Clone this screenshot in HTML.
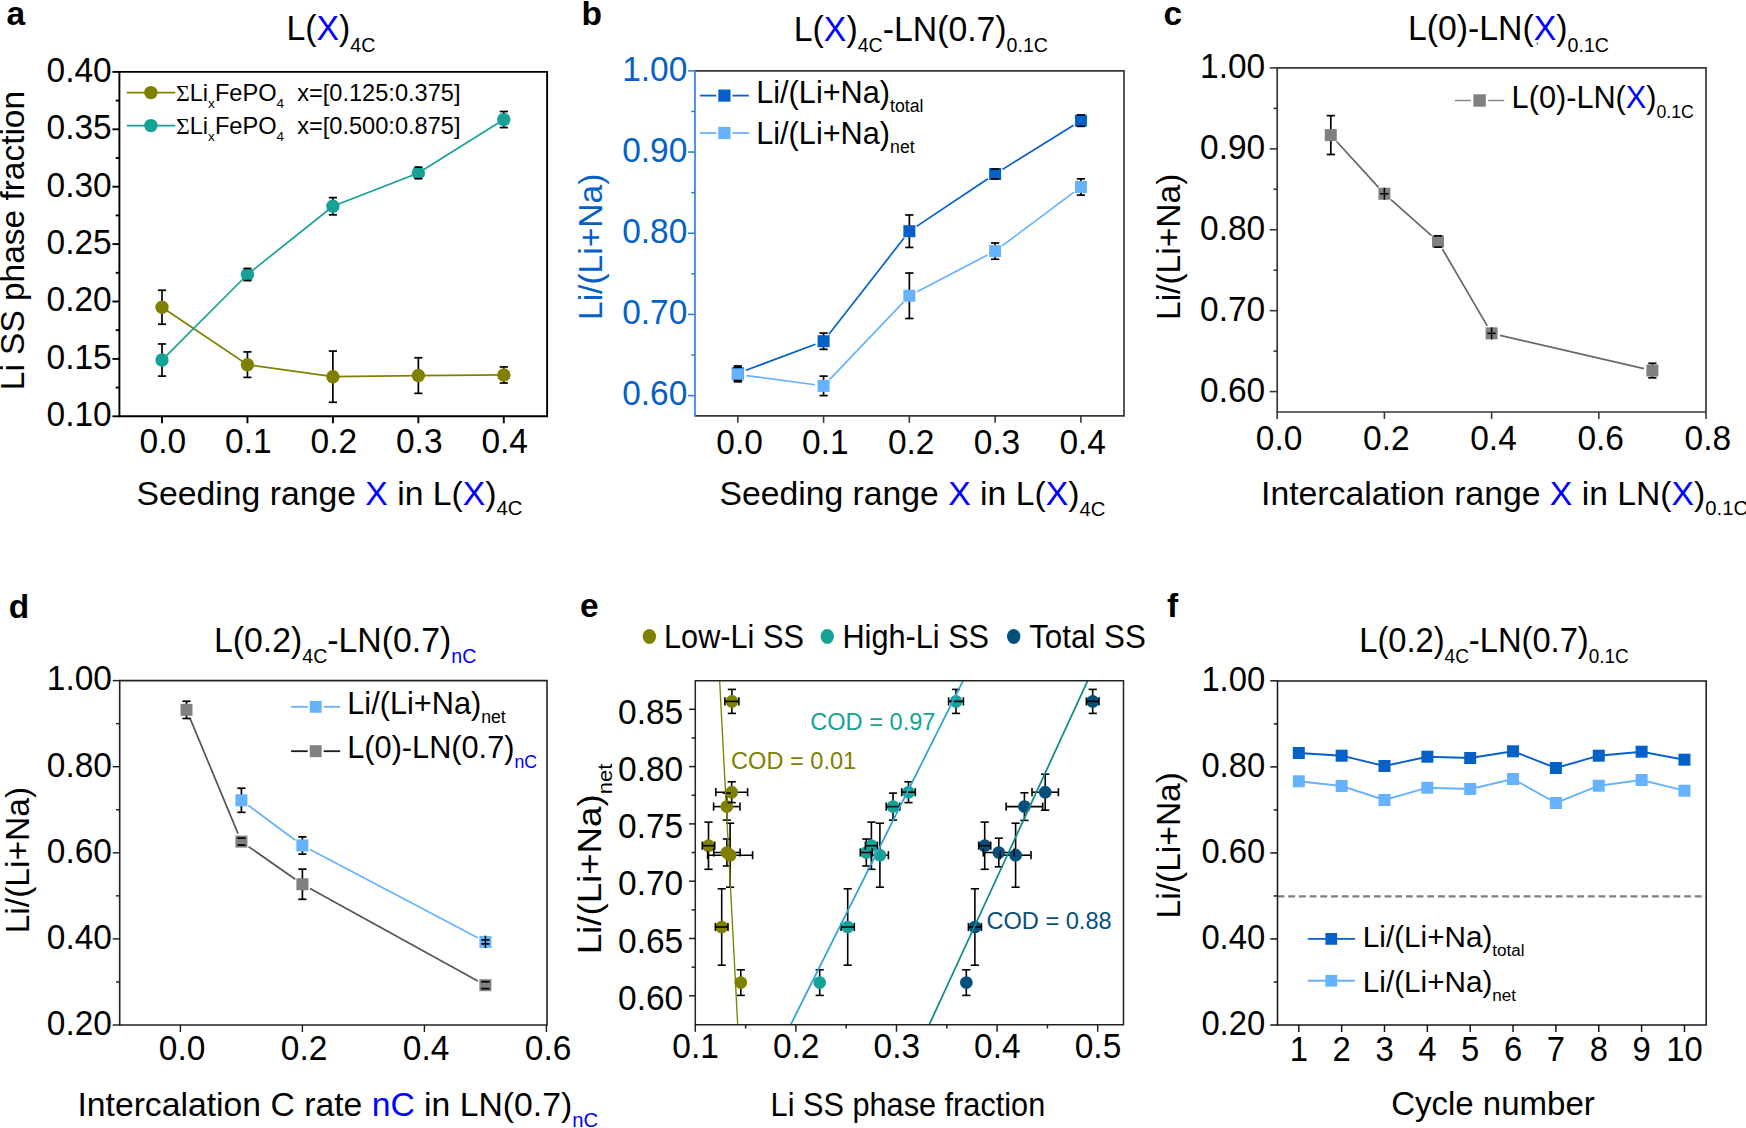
<!DOCTYPE html>
<html><head><meta charset="utf-8"><title>Figure</title>
<style>
html,body{margin:0;padding:0;background:#fff;}
body{width:1746px;height:1128px;overflow:hidden;}
svg{display:block;font-family:"Liberation Sans", sans-serif;}
</style></head><body>
<svg width="1746" height="1128" viewBox="0 0 1746 1128">
<rect width="1746" height="1128" fill="#fff"/>
<polyline fill="none" stroke="#808000" stroke-width="1.7" points="162.00,307.24 247.45,364.64 332.90,376.69 418.35,375.55 503.80,374.97"/>
<polyline fill="none" stroke="#17a297" stroke-width="1.7" points="162.00,360.05 247.45,274.52 332.90,206.22 418.35,172.92 503.80,119.54"/>
<line x1="162.00" y1="290.25" x2="162.00" y2="324.23" stroke="#000" stroke-width="1.7"/>
<line x1="247.45" y1="351.90" x2="247.45" y2="377.38" stroke="#000" stroke-width="1.7"/>
<line x1="332.90" y1="351.09" x2="332.90" y2="402.29" stroke="#000" stroke-width="1.7"/>
<line x1="418.35" y1="357.75" x2="418.35" y2="393.34" stroke="#000" stroke-width="1.7"/>
<line x1="503.80" y1="366.94" x2="503.80" y2="383.01" stroke="#000" stroke-width="1.7"/>
<line x1="162.00" y1="343.98" x2="162.00" y2="376.12" stroke="#000" stroke-width="1.7"/>
<line x1="247.45" y1="268.44" x2="247.45" y2="280.61" stroke="#000" stroke-width="1.7"/>
<line x1="332.90" y1="197.61" x2="332.90" y2="214.83" stroke="#000" stroke-width="1.7"/>
<line x1="418.35" y1="167.18" x2="418.35" y2="178.66" stroke="#000" stroke-width="1.7"/>
<line x1="503.80" y1="111.51" x2="503.80" y2="127.58" stroke="#000" stroke-width="1.7"/>
<circle cx="162.00" cy="307.24" r="6.7" fill="#808000"/>
<circle cx="247.45" cy="364.64" r="6.7" fill="#808000"/>
<circle cx="332.90" cy="376.69" r="6.7" fill="#808000"/>
<circle cx="418.35" cy="375.55" r="6.7" fill="#808000"/>
<circle cx="503.80" cy="374.97" r="6.7" fill="#808000"/>
<circle cx="162.00" cy="360.05" r="6.7" fill="#17a297"/>
<circle cx="247.45" cy="274.52" r="6.7" fill="#17a297"/>
<circle cx="332.90" cy="206.22" r="6.7" fill="#17a297"/>
<circle cx="418.35" cy="172.92" r="6.7" fill="#17a297"/>
<circle cx="503.80" cy="119.54" r="6.7" fill="#17a297"/>
<line x1="157.90" y1="290.25" x2="166.10" y2="290.25" stroke="#000" stroke-width="1.7"/>
<line x1="157.90" y1="324.23" x2="166.10" y2="324.23" stroke="#000" stroke-width="1.7"/>
<line x1="243.35" y1="351.90" x2="251.55" y2="351.90" stroke="#000" stroke-width="1.7"/>
<line x1="243.35" y1="377.38" x2="251.55" y2="377.38" stroke="#000" stroke-width="1.7"/>
<line x1="328.80" y1="351.09" x2="337.00" y2="351.09" stroke="#000" stroke-width="1.7"/>
<line x1="328.80" y1="402.29" x2="337.00" y2="402.29" stroke="#000" stroke-width="1.7"/>
<line x1="414.25" y1="357.75" x2="422.45" y2="357.75" stroke="#000" stroke-width="1.7"/>
<line x1="414.25" y1="393.34" x2="422.45" y2="393.34" stroke="#000" stroke-width="1.7"/>
<line x1="499.70" y1="366.94" x2="507.90" y2="366.94" stroke="#000" stroke-width="1.7"/>
<line x1="499.70" y1="383.01" x2="507.90" y2="383.01" stroke="#000" stroke-width="1.7"/>
<line x1="157.90" y1="343.98" x2="166.10" y2="343.98" stroke="#000" stroke-width="1.7"/>
<line x1="157.90" y1="376.12" x2="166.10" y2="376.12" stroke="#000" stroke-width="1.7"/>
<line x1="243.35" y1="268.44" x2="251.55" y2="268.44" stroke="#000" stroke-width="1.7"/>
<line x1="243.35" y1="280.61" x2="251.55" y2="280.61" stroke="#000" stroke-width="1.7"/>
<line x1="328.80" y1="197.61" x2="337.00" y2="197.61" stroke="#000" stroke-width="1.7"/>
<line x1="328.80" y1="214.83" x2="337.00" y2="214.83" stroke="#000" stroke-width="1.7"/>
<line x1="414.25" y1="167.18" x2="422.45" y2="167.18" stroke="#000" stroke-width="1.7"/>
<line x1="414.25" y1="178.66" x2="422.45" y2="178.66" stroke="#000" stroke-width="1.7"/>
<line x1="499.70" y1="111.51" x2="507.90" y2="111.51" stroke="#000" stroke-width="1.7"/>
<line x1="499.70" y1="127.58" x2="507.90" y2="127.58" stroke="#000" stroke-width="1.7"/>
<polyline fill="none" stroke="#000" stroke-width="1.9" stroke-linejoin="miter" points="119.4,71.9 547.1,71.9 547.1,416.3 119.4,416.3"/>
<line x1="119.40" y1="70.95" x2="119.40" y2="417.25" stroke="#000" stroke-width="1.9"/>
<line x1="112.40" y1="416.30" x2="119.40" y2="416.30" stroke="#000" stroke-width="1.9"/>
<text x="0" y="0" font-size="33.5" text-anchor="end" fill="#000" transform="translate(111.7 426.18) scale(1 1.06)"><tspan>0.10</tspan></text>
<line x1="112.40" y1="358.90" x2="119.40" y2="358.90" stroke="#000" stroke-width="1.9"/>
<text x="0" y="0" font-size="33.5" text-anchor="end" fill="#000" transform="translate(111.7 368.78) scale(1 1.06)"><tspan>0.15</tspan></text>
<line x1="112.40" y1="301.50" x2="119.40" y2="301.50" stroke="#000" stroke-width="1.9"/>
<text x="0" y="0" font-size="33.5" text-anchor="end" fill="#000" transform="translate(111.7 311.38) scale(1 1.06)"><tspan>0.20</tspan></text>
<line x1="112.40" y1="244.10" x2="119.40" y2="244.10" stroke="#000" stroke-width="1.9"/>
<text x="0" y="0" font-size="33.5" text-anchor="end" fill="#000" transform="translate(111.7 253.98) scale(1 1.06)"><tspan>0.25</tspan></text>
<line x1="112.40" y1="186.70" x2="119.40" y2="186.70" stroke="#000" stroke-width="1.9"/>
<text x="0" y="0" font-size="33.5" text-anchor="end" fill="#000" transform="translate(111.7 196.58) scale(1 1.06)"><tspan>0.30</tspan></text>
<line x1="112.40" y1="129.30" x2="119.40" y2="129.30" stroke="#000" stroke-width="1.9"/>
<text x="0" y="0" font-size="33.5" text-anchor="end" fill="#000" transform="translate(111.7 139.18) scale(1 1.06)"><tspan>0.35</tspan></text>
<line x1="112.40" y1="71.90" x2="119.40" y2="71.90" stroke="#000" stroke-width="1.9"/>
<text x="0" y="0" font-size="33.5" text-anchor="end" fill="#000" transform="translate(111.7 81.78) scale(1 1.06)"><tspan>0.40</tspan></text>
<line x1="115.70" y1="387.60" x2="119.40" y2="387.60" stroke="#000" stroke-width="1.9"/>
<line x1="115.70" y1="330.20" x2="119.40" y2="330.20" stroke="#000" stroke-width="1.9"/>
<line x1="115.70" y1="272.80" x2="119.40" y2="272.80" stroke="#000" stroke-width="1.9"/>
<line x1="115.70" y1="215.40" x2="119.40" y2="215.40" stroke="#000" stroke-width="1.9"/>
<line x1="115.70" y1="158.00" x2="119.40" y2="158.00" stroke="#000" stroke-width="1.9"/>
<line x1="115.70" y1="100.60" x2="119.40" y2="100.60" stroke="#000" stroke-width="1.9"/>
<line x1="162.00" y1="416.30" x2="162.00" y2="423.30" stroke="#000" stroke-width="1.9"/>
<text x="0" y="0" font-size="33.5" text-anchor="middle" fill="#000" transform="translate(162.9 453.3) scale(1 1.06)"><tspan>0.0</tspan></text>
<line x1="247.45" y1="416.30" x2="247.45" y2="423.30" stroke="#000" stroke-width="1.9"/>
<text x="0" y="0" font-size="33.5" text-anchor="middle" fill="#000" transform="translate(248.35 453.3) scale(1 1.06)"><tspan>0.1</tspan></text>
<line x1="332.90" y1="416.30" x2="332.90" y2="423.30" stroke="#000" stroke-width="1.9"/>
<text x="0" y="0" font-size="33.5" text-anchor="middle" fill="#000" transform="translate(333.8 453.3) scale(1 1.06)"><tspan>0.2</tspan></text>
<line x1="418.35" y1="416.30" x2="418.35" y2="423.30" stroke="#000" stroke-width="1.9"/>
<text x="0" y="0" font-size="33.5" text-anchor="middle" fill="#000" transform="translate(419.25 453.3) scale(1 1.06)"><tspan>0.3</tspan></text>
<line x1="503.80" y1="416.30" x2="503.80" y2="423.30" stroke="#000" stroke-width="1.9"/>
<text x="0" y="0" font-size="33.5" text-anchor="middle" fill="#000" transform="translate(504.7 453.3) scale(1 1.06)"><tspan>0.4</tspan></text>
<text x="6.6" y="24.9" font-size="33.5" text-anchor="start" fill="#000" font-weight="bold"><tspan>a</tspan></text>
<text x="0" y="0" font-size="33.8" text-anchor="start" fill="#000" transform="translate(286.5 40.3) scale(1 1.06)"><tspan>L(</tspan><tspan fill="#0000ff">X</tspan><tspan>)</tspan><tspan dy="10.65" font-size="19.60">4C</tspan></text>
<text x="24.1" y="390.2" font-size="33.45" text-anchor="start" fill="#000" transform="rotate(-90 24.1 390.2)"><tspan>Li SS phase fraction</tspan></text>
<text x="136.6" y="504.8" font-size="33.72" text-anchor="start" fill="#000"><tspan>Seeding range </tspan><tspan fill="#0000ff">X</tspan><tspan> in L(</tspan><tspan fill="#0000ff">X</tspan><tspan>)</tspan><tspan dy="10.62" font-size="20.23">4C</tspan></text>
<line x1="126.80" y1="92.60" x2="175.30" y2="92.60" stroke="#808000" stroke-width="1.7"/>
<circle cx="150.90" cy="92.60" r="6.7" fill="#808000"/>
<text x="176" y="100.75" font-size="23.6" text-anchor="start" fill="#000"><tspan font-family="Liberation Serif, serif">Σ</tspan><tspan>Li</tspan><tspan dy="7.43" font-size="13.57">x</tspan><tspan dy="-7.43">FePO</tspan><tspan dy="7.43" font-size="13.57">4</tspan><tspan dy="-7.43">  x=[0.125:0.375]</tspan></text>
<line x1="126.80" y1="125.60" x2="175.30" y2="125.60" stroke="#17a297" stroke-width="1.7"/>
<circle cx="150.90" cy="125.60" r="6.7" fill="#17a297"/>
<text x="176" y="133.75" font-size="23.6" text-anchor="start" fill="#000"><tspan font-family="Liberation Serif, serif">Σ</tspan><tspan>Li</tspan><tspan dy="7.43" font-size="13.57">x</tspan><tspan dy="-7.43">FePO</tspan><tspan dy="7.43" font-size="13.57">4</tspan><tspan dy="-7.43">  x=[0.500:0.875]</tspan></text>
<line x1="745.95" y1="370.23" x2="815.43" y2="344.26" stroke="#0560c8" stroke-width="1.7"/>
<line x1="828.93" y1="334.35" x2="904.01" y2="238.07" stroke="#0560c8" stroke-width="1.7"/>
<line x1="916.60" y1="226.38" x2="987.90" y2="178.81" stroke="#0560c8" stroke-width="1.7"/>
<line x1="1002.53" y1="169.38" x2="1073.53" y2="125.24" stroke="#0560c8" stroke-width="1.7"/>
<line x1="746.42" y1="375.64" x2="814.96" y2="384.72" stroke="#66b2ff" stroke-width="1.7"/>
<line x1="829.58" y1="379.56" x2="903.36" y2="302.05" stroke="#66b2ff" stroke-width="1.7"/>
<line x1="917.08" y1="291.73" x2="987.42" y2="255.12" stroke="#66b2ff" stroke-width="1.7"/>
<line x1="1002.11" y1="245.89" x2="1073.95" y2="192.18" stroke="#66b2ff" stroke-width="1.7"/>
<line x1="737.80" y1="365.97" x2="737.80" y2="380.58" stroke="#000" stroke-width="1.7"/>
<line x1="823.58" y1="333.09" x2="823.58" y2="349.33" stroke="#000" stroke-width="1.7"/>
<line x1="909.36" y1="214.97" x2="909.36" y2="247.45" stroke="#000" stroke-width="1.7"/>
<line x1="995.14" y1="169.11" x2="995.14" y2="178.85" stroke="#000" stroke-width="1.7"/>
<line x1="1080.92" y1="114.96" x2="1080.92" y2="126.33" stroke="#000" stroke-width="1.7"/>
<line x1="737.80" y1="367.19" x2="737.80" y2="381.80" stroke="#000" stroke-width="1.7"/>
<line x1="823.58" y1="376.12" x2="823.58" y2="395.60" stroke="#000" stroke-width="1.7"/>
<line x1="909.36" y1="273.02" x2="909.36" y2="318.48" stroke="#000" stroke-width="1.7"/>
<line x1="995.14" y1="242.98" x2="995.14" y2="259.22" stroke="#000" stroke-width="1.7"/>
<line x1="1080.92" y1="178.85" x2="1080.92" y2="195.09" stroke="#000" stroke-width="1.7"/>
<rect x="731.80" y="367.28" width="12" height="12" fill="#0560c8"/>
<rect x="817.58" y="335.21" width="12" height="12" fill="#0560c8"/>
<rect x="903.36" y="225.21" width="12" height="12" fill="#0560c8"/>
<rect x="989.14" y="167.98" width="12" height="12" fill="#0560c8"/>
<rect x="1074.92" y="114.64" width="12" height="12" fill="#0560c8"/>
<rect x="731.80" y="368.49" width="12" height="12" fill="#66b2ff"/>
<rect x="817.58" y="379.86" width="12" height="12" fill="#66b2ff"/>
<rect x="903.36" y="289.75" width="12" height="12" fill="#66b2ff"/>
<rect x="989.14" y="245.10" width="12" height="12" fill="#66b2ff"/>
<rect x="1074.92" y="180.97" width="12" height="12" fill="#66b2ff"/>
<line x1="733.70" y1="365.97" x2="741.90" y2="365.97" stroke="#000" stroke-width="1.7"/>
<line x1="733.70" y1="380.58" x2="741.90" y2="380.58" stroke="#000" stroke-width="1.7"/>
<line x1="819.48" y1="333.09" x2="827.68" y2="333.09" stroke="#000" stroke-width="1.7"/>
<line x1="819.48" y1="349.33" x2="827.68" y2="349.33" stroke="#000" stroke-width="1.7"/>
<line x1="905.26" y1="214.97" x2="913.46" y2="214.97" stroke="#000" stroke-width="1.7"/>
<line x1="905.26" y1="247.45" x2="913.46" y2="247.45" stroke="#000" stroke-width="1.7"/>
<line x1="991.04" y1="169.11" x2="999.24" y2="169.11" stroke="#000" stroke-width="1.7"/>
<line x1="991.04" y1="178.85" x2="999.24" y2="178.85" stroke="#000" stroke-width="1.7"/>
<line x1="1076.82" y1="114.96" x2="1085.02" y2="114.96" stroke="#000" stroke-width="1.7"/>
<line x1="1076.82" y1="126.33" x2="1085.02" y2="126.33" stroke="#000" stroke-width="1.7"/>
<line x1="733.70" y1="367.19" x2="741.90" y2="367.19" stroke="#000" stroke-width="1.7"/>
<line x1="733.70" y1="381.80" x2="741.90" y2="381.80" stroke="#000" stroke-width="1.7"/>
<line x1="819.48" y1="376.12" x2="827.68" y2="376.12" stroke="#000" stroke-width="1.7"/>
<line x1="819.48" y1="395.60" x2="827.68" y2="395.60" stroke="#000" stroke-width="1.7"/>
<line x1="905.26" y1="273.02" x2="913.46" y2="273.02" stroke="#000" stroke-width="1.7"/>
<line x1="905.26" y1="318.48" x2="913.46" y2="318.48" stroke="#000" stroke-width="1.7"/>
<line x1="991.04" y1="242.98" x2="999.24" y2="242.98" stroke="#000" stroke-width="1.7"/>
<line x1="991.04" y1="259.22" x2="999.24" y2="259.22" stroke="#000" stroke-width="1.7"/>
<line x1="1076.82" y1="178.85" x2="1085.02" y2="178.85" stroke="#000" stroke-width="1.7"/>
<line x1="1076.82" y1="195.09" x2="1085.02" y2="195.09" stroke="#000" stroke-width="1.7"/>
<polyline fill="none" stroke="#383838" stroke-width="1.7" stroke-linejoin="miter" points="695.0,70.9 1124,70.9 1124,415.8 695.0,415.8"/>
<line x1="695.00" y1="70.05" x2="695.00" y2="416.65" stroke="#2d7ad6" stroke-width="1.6"/>
<line x1="688.00" y1="395.60" x2="695.00" y2="395.60" stroke="#2d7ad6" stroke-width="1.5"/>
<text x="0" y="0" font-size="33.5" text-anchor="end" fill="#0560c8" transform="translate(687.3 405.48) scale(1 1.06)"><tspan>0.60</tspan></text>
<line x1="688.00" y1="314.42" x2="695.00" y2="314.42" stroke="#2d7ad6" stroke-width="1.5"/>
<text x="0" y="0" font-size="33.5" text-anchor="end" fill="#0560c8" transform="translate(687.3 324.3) scale(1 1.06)"><tspan>0.70</tspan></text>
<line x1="688.00" y1="233.24" x2="695.00" y2="233.24" stroke="#2d7ad6" stroke-width="1.5"/>
<text x="0" y="0" font-size="33.5" text-anchor="end" fill="#0560c8" transform="translate(687.3 243.12) scale(1 1.06)"><tspan>0.80</tspan></text>
<line x1="688.00" y1="152.06" x2="695.00" y2="152.06" stroke="#2d7ad6" stroke-width="1.5"/>
<text x="0" y="0" font-size="33.5" text-anchor="end" fill="#0560c8" transform="translate(687.3 161.94) scale(1 1.06)"><tspan>0.90</tspan></text>
<line x1="688.00" y1="70.88" x2="695.00" y2="70.88" stroke="#2d7ad6" stroke-width="1.5"/>
<text x="0" y="0" font-size="33.5" text-anchor="end" fill="#0560c8" transform="translate(687.3 80.76) scale(1 1.06)"><tspan>1.00</tspan></text>
<line x1="691.30" y1="355.01" x2="695.00" y2="355.01" stroke="#2d7ad6" stroke-width="1.5"/>
<line x1="691.30" y1="273.83" x2="695.00" y2="273.83" stroke="#2d7ad6" stroke-width="1.5"/>
<line x1="691.30" y1="192.65" x2="695.00" y2="192.65" stroke="#2d7ad6" stroke-width="1.5"/>
<line x1="691.30" y1="111.47" x2="695.00" y2="111.47" stroke="#2d7ad6" stroke-width="1.5"/>
<line x1="737.80" y1="415.80" x2="737.80" y2="422.80" stroke="#383838" stroke-width="1.6"/>
<text x="0" y="0" font-size="33.5" text-anchor="middle" fill="#000" transform="translate(739.6 453.6) scale(1 1.06)"><tspan>0.0</tspan></text>
<line x1="823.58" y1="415.80" x2="823.58" y2="422.80" stroke="#383838" stroke-width="1.6"/>
<text x="0" y="0" font-size="33.5" text-anchor="middle" fill="#000" transform="translate(825.38 453.6) scale(1 1.06)"><tspan>0.1</tspan></text>
<line x1="909.36" y1="415.80" x2="909.36" y2="422.80" stroke="#383838" stroke-width="1.6"/>
<text x="0" y="0" font-size="33.5" text-anchor="middle" fill="#000" transform="translate(911.16 453.6) scale(1 1.06)"><tspan>0.2</tspan></text>
<line x1="995.14" y1="415.80" x2="995.14" y2="422.80" stroke="#383838" stroke-width="1.6"/>
<text x="0" y="0" font-size="33.5" text-anchor="middle" fill="#000" transform="translate(996.94 453.6) scale(1 1.06)"><tspan>0.3</tspan></text>
<line x1="1080.92" y1="415.80" x2="1080.92" y2="422.80" stroke="#383838" stroke-width="1.6"/>
<text x="0" y="0" font-size="33.5" text-anchor="middle" fill="#000" transform="translate(1082.72 453.6) scale(1 1.06)"><tspan>0.4</tspan></text>
<text x="581.6" y="24.9" font-size="33.5" text-anchor="start" fill="#000" font-weight="bold"><tspan>b</tspan></text>
<text x="0" y="0" font-size="33.8" text-anchor="start" fill="#000" transform="translate(793.8 41.1) scale(1 1.06)"><tspan>L(</tspan><tspan fill="#0000ff">X</tspan><tspan>)</tspan><tspan dy="10.65" font-size="19.60">4C</tspan><tspan dy="-10.65">-LN(0.7)</tspan><tspan dy="10.65" font-size="19.60">0.1C</tspan></text>
<text x="602.4" y="320" font-size="33.55" text-anchor="start" fill="#0560c8" transform="rotate(-90 602.4 320)"><tspan>Li/(Li+Na)</tspan></text>
<text x="719.5" y="505.4" font-size="33.72" text-anchor="start" fill="#000"><tspan>Seeding range </tspan><tspan fill="#0000ff">X</tspan><tspan> in L(</tspan><tspan fill="#0000ff">X</tspan><tspan>)</tspan><tspan dy="10.62" font-size="20.23">4C</tspan></text>
<line x1="700.10" y1="95.60" x2="716.10" y2="95.60" stroke="#0560c8" stroke-width="1.8"/>
<line x1="732.60" y1="95.60" x2="748.80" y2="95.60" stroke="#0560c8" stroke-width="1.8"/>
<rect x="718.30" y="89.50" width="12.2" height="12.2" fill="#0560c8"/>
<text x="756.2" y="102.8" font-size="30.7" text-anchor="start" fill="#000"><tspan>Li/(Li+Na)</tspan><tspan dy="9.67" font-size="17.65">total</tspan></text>
<line x1="700.10" y1="133.00" x2="716.10" y2="133.00" stroke="#66b2ff" stroke-width="1.8"/>
<line x1="732.60" y1="133.00" x2="748.80" y2="133.00" stroke="#66b2ff" stroke-width="1.8"/>
<rect x="718.30" y="126.90" width="12.2" height="12.2" fill="#66b2ff"/>
<text x="756.2" y="143.7" font-size="30.7" text-anchor="start" fill="#000"><tspan>Li/(Li+Na)</tspan><tspan dy="9.67" font-size="17.65">net</tspan></text>
<line x1="1336.67" y1="141.51" x2="1378.53" y2="187.33" stroke="#666" stroke-width="1.7"/>
<line x1="1390.90" y1="199.54" x2="1431.50" y2="235.71" stroke="#666" stroke-width="1.7"/>
<line x1="1442.39" y1="249.01" x2="1487.21" y2="325.82" stroke="#666" stroke-width="1.7"/>
<line x1="1500.08" y1="335.30" x2="1643.92" y2="368.60" stroke="#666" stroke-width="1.7"/>
<line x1="1330.80" y1="115.66" x2="1330.80" y2="154.50" stroke="#000" stroke-width="1.7"/>
<line x1="1384.40" y1="190.51" x2="1384.40" y2="196.99" stroke="#000" stroke-width="1.7"/>
<line x1="1438.00" y1="235.83" x2="1438.00" y2="247.16" stroke="#000" stroke-width="1.7"/>
<line x1="1491.60" y1="330.10" x2="1491.60" y2="336.57" stroke="#000" stroke-width="1.7"/>
<line x1="1652.40" y1="363.28" x2="1652.40" y2="377.84" stroke="#000" stroke-width="1.7"/>
<rect x="1324.80" y="129.08" width="12" height="12" fill="#808080"/>
<rect x="1378.40" y="187.75" width="12" height="12" fill="#808080"/>
<rect x="1432.00" y="235.49" width="12" height="12" fill="#808080"/>
<rect x="1485.60" y="327.34" width="12" height="12" fill="#808080"/>
<rect x="1646.40" y="364.56" width="12" height="12" fill="#808080"/>
<line x1="1326.70" y1="115.66" x2="1334.90" y2="115.66" stroke="#000" stroke-width="1.7"/>
<line x1="1326.70" y1="154.50" x2="1334.90" y2="154.50" stroke="#000" stroke-width="1.7"/>
<line x1="1384.40" y1="187.75" x2="1384.40" y2="199.75" stroke="#000" stroke-width="1.5"/>
<line x1="1380.20" y1="193.75" x2="1388.60" y2="193.75" stroke="#000" stroke-width="1.5"/>
<line x1="1433.90" y1="235.83" x2="1442.10" y2="235.83" stroke="#000" stroke-width="1.7"/>
<line x1="1433.90" y1="247.16" x2="1442.10" y2="247.16" stroke="#000" stroke-width="1.7"/>
<line x1="1491.60" y1="327.34" x2="1491.60" y2="339.34" stroke="#000" stroke-width="1.5"/>
<line x1="1487.40" y1="333.34" x2="1495.80" y2="333.34" stroke="#000" stroke-width="1.5"/>
<line x1="1648.30" y1="363.28" x2="1656.50" y2="363.28" stroke="#000" stroke-width="1.7"/>
<line x1="1648.30" y1="377.84" x2="1656.50" y2="377.84" stroke="#000" stroke-width="1.7"/>
<polyline fill="none" stroke="#383838" stroke-width="1.7" stroke-linejoin="miter" points="1277.2,67.9 1706.0,67.9 1706.0,412.0 1277.2,412.0"/>
<line x1="1277.20" y1="67.05" x2="1277.20" y2="412.85" stroke="#383838" stroke-width="1.7"/>
<line x1="1269.70" y1="391.60" x2="1277.20" y2="391.60" stroke="#383838" stroke-width="1.6"/>
<text x="0" y="0" font-size="33.5" text-anchor="end" fill="#000" transform="translate(1265.2 401.99) scale(1 1.06)"><tspan>0.60</tspan></text>
<line x1="1269.70" y1="310.68" x2="1277.20" y2="310.68" stroke="#383838" stroke-width="1.6"/>
<text x="0" y="0" font-size="33.5" text-anchor="end" fill="#000" transform="translate(1265.2 321.07) scale(1 1.06)"><tspan>0.70</tspan></text>
<line x1="1269.70" y1="229.76" x2="1277.20" y2="229.76" stroke="#383838" stroke-width="1.6"/>
<text x="0" y="0" font-size="33.5" text-anchor="end" fill="#000" transform="translate(1265.2 240.14) scale(1 1.06)"><tspan>0.80</tspan></text>
<line x1="1269.70" y1="148.84" x2="1277.20" y2="148.84" stroke="#383838" stroke-width="1.6"/>
<text x="0" y="0" font-size="33.5" text-anchor="end" fill="#000" transform="translate(1265.2 159.22) scale(1 1.06)"><tspan>0.90</tspan></text>
<line x1="1269.70" y1="67.92" x2="1277.20" y2="67.92" stroke="#383838" stroke-width="1.6"/>
<text x="0" y="0" font-size="33.5" text-anchor="end" fill="#000" transform="translate(1265.2 78.3) scale(1 1.06)"><tspan>1.00</tspan></text>
<line x1="1273.50" y1="351.14" x2="1277.20" y2="351.14" stroke="#383838" stroke-width="1.6"/>
<line x1="1273.50" y1="270.22" x2="1277.20" y2="270.22" stroke="#383838" stroke-width="1.6"/>
<line x1="1273.50" y1="189.30" x2="1277.20" y2="189.30" stroke="#383838" stroke-width="1.6"/>
<line x1="1273.50" y1="108.38" x2="1277.20" y2="108.38" stroke="#383838" stroke-width="1.6"/>
<line x1="1277.20" y1="412.00" x2="1277.20" y2="419.00" stroke="#383838" stroke-width="1.6"/>
<text x="0" y="0" font-size="33.5" text-anchor="middle" fill="#000" transform="translate(1279.1 450) scale(1 1.06)"><tspan>0.0</tspan></text>
<line x1="1384.40" y1="412.00" x2="1384.40" y2="419.00" stroke="#383838" stroke-width="1.6"/>
<text x="0" y="0" font-size="33.5" text-anchor="middle" fill="#000" transform="translate(1386.3 450) scale(1 1.06)"><tspan>0.2</tspan></text>
<line x1="1491.60" y1="412.00" x2="1491.60" y2="419.00" stroke="#383838" stroke-width="1.6"/>
<text x="0" y="0" font-size="33.5" text-anchor="middle" fill="#000" transform="translate(1493.5 450) scale(1 1.06)"><tspan>0.4</tspan></text>
<line x1="1598.80" y1="412.00" x2="1598.80" y2="419.00" stroke="#383838" stroke-width="1.6"/>
<text x="0" y="0" font-size="33.5" text-anchor="middle" fill="#000" transform="translate(1600.7 450) scale(1 1.06)"><tspan>0.6</tspan></text>
<line x1="1706.00" y1="412.00" x2="1706.00" y2="419.00" stroke="#383838" stroke-width="1.6"/>
<text x="0" y="0" font-size="33.5" text-anchor="middle" fill="#000" transform="translate(1707.9 450) scale(1 1.06)"><tspan>0.8</tspan></text>
<text x="1163.6" y="24.9" font-size="33.5" text-anchor="start" fill="#000" font-weight="bold"><tspan>c</tspan></text>
<circle cx="1537.30" cy="43.60" r="0.8" fill="#333"/>
<text x="0" y="0" font-size="33.8" text-anchor="start" fill="#000" transform="translate(1408 40.3) scale(1 1.06)"><tspan>L(0)-LN(</tspan><tspan fill="#0000ff">X</tspan><tspan>)</tspan><tspan dy="10.65" font-size="19.60">0.1C</tspan></text>
<text x="1180.2" y="320" font-size="33.55" text-anchor="start" fill="#000" transform="rotate(-90 1180.2 320)"><tspan>Li/(Li+Na)</tspan></text>
<text x="1261.1" y="504.7" font-size="33.72" text-anchor="start" fill="#000"><tspan>Intercalation range </tspan><tspan fill="#0000ff">X</tspan><tspan> in LN(</tspan><tspan fill="#0000ff">X</tspan><tspan>)</tspan><tspan dy="10.62" font-size="20.23">0.1C</tspan></text>
<line x1="1455.00" y1="100.50" x2="1470.90" y2="100.50" stroke="#808080" stroke-width="1.4"/>
<line x1="1488.20" y1="100.50" x2="1504.20" y2="100.50" stroke="#808080" stroke-width="1.4"/>
<rect x="1473.40" y="94.30" width="12.4" height="12.4" fill="#808080"/>
<text x="1511.6" y="107.9" font-size="30.7" text-anchor="start" fill="#000"><tspan>L(0)-LN(</tspan><tspan fill="#0000ff">X</tspan><tspan>)</tspan><tspan dy="9.67" font-size="17.65">0.1C</tspan></text>
<line x1="189.85" y1="717.90" x2="238.05" y2="833.58" stroke="#555" stroke-width="1.7"/>
<line x1="248.53" y1="846.59" x2="295.27" y2="879.24" stroke="#555" stroke-width="1.7"/>
<line x1="310.02" y1="888.43" x2="477.78" y2="980.98" stroke="#555" stroke-width="1.7"/>
<line x1="248.39" y1="805.46" x2="295.41" y2="840.30" stroke="#66b2ff" stroke-width="1.7"/>
<line x1="310.10" y1="849.54" x2="477.70" y2="937.86" stroke="#66b2ff" stroke-width="1.7"/>
<line x1="186.50" y1="701.26" x2="186.50" y2="718.48" stroke="#000" stroke-width="1.7"/>
<line x1="241.40" y1="838.16" x2="241.40" y2="845.05" stroke="#000" stroke-width="1.7"/>
<line x1="302.40" y1="869.16" x2="302.40" y2="899.29" stroke="#000" stroke-width="1.7"/>
<line x1="485.40" y1="981.73" x2="485.40" y2="988.62" stroke="#000" stroke-width="1.7"/>
<line x1="241.40" y1="788.23" x2="241.40" y2="812.33" stroke="#000" stroke-width="1.7"/>
<line x1="302.40" y1="836.87" x2="302.40" y2="854.09" stroke="#000" stroke-width="1.7"/>
<line x1="485.40" y1="939.93" x2="485.40" y2="943.89" stroke="#000" stroke-width="1.7"/>
<rect x="180.50" y="703.87" width="12" height="12" fill="#808080"/>
<rect x="235.40" y="835.61" width="12" height="12" fill="#808080"/>
<rect x="296.40" y="878.23" width="12" height="12" fill="#808080"/>
<rect x="479.40" y="979.18" width="12" height="12" fill="#808080"/>
<rect x="235.40" y="794.28" width="12" height="12" fill="#66b2ff"/>
<rect x="296.40" y="839.48" width="12" height="12" fill="#66b2ff"/>
<rect x="479.40" y="935.91" width="12" height="12" fill="#66b2ff"/>
<line x1="182.40" y1="701.26" x2="190.60" y2="701.26" stroke="#000" stroke-width="1.7"/>
<line x1="182.40" y1="718.48" x2="190.60" y2="718.48" stroke="#000" stroke-width="1.7"/>
<line x1="237.30" y1="838.16" x2="245.50" y2="838.16" stroke="#000" stroke-width="1.7"/>
<line x1="237.30" y1="845.05" x2="245.50" y2="845.05" stroke="#000" stroke-width="1.7"/>
<line x1="298.30" y1="869.16" x2="306.50" y2="869.16" stroke="#000" stroke-width="1.7"/>
<line x1="298.30" y1="899.29" x2="306.50" y2="899.29" stroke="#000" stroke-width="1.7"/>
<line x1="481.30" y1="981.73" x2="489.50" y2="981.73" stroke="#000" stroke-width="1.7"/>
<line x1="481.30" y1="988.62" x2="489.50" y2="988.62" stroke="#000" stroke-width="1.7"/>
<line x1="237.30" y1="788.23" x2="245.50" y2="788.23" stroke="#000" stroke-width="1.7"/>
<line x1="237.30" y1="812.33" x2="245.50" y2="812.33" stroke="#000" stroke-width="1.7"/>
<line x1="298.30" y1="836.87" x2="306.50" y2="836.87" stroke="#000" stroke-width="1.7"/>
<line x1="298.30" y1="854.09" x2="306.50" y2="854.09" stroke="#000" stroke-width="1.7"/>
<line x1="481.30" y1="939.93" x2="489.50" y2="939.93" stroke="#000" stroke-width="1.7"/>
<line x1="481.30" y1="943.89" x2="489.50" y2="943.89" stroke="#000" stroke-width="1.7"/>
<line x1="485.40" y1="935.71" x2="485.40" y2="948.11" stroke="#000" stroke-width="1.5"/>
<polyline fill="none" stroke="#222" stroke-width="1.6" stroke-linejoin="miter" points="119.7,680.6 547,680.6 547,1025.0 119.7,1025.0"/>
<line x1="119.70" y1="679.80" x2="119.70" y2="1025.80" stroke="#222" stroke-width="1.6"/>
<line x1="112.70" y1="1025.00" x2="119.70" y2="1025.00" stroke="#1a1a1a" stroke-width="1.4"/>
<text x="0" y="0" font-size="33.5" text-anchor="end" fill="#000" transform="translate(112.0 1034.88) scale(1 1.06)"><tspan>0.20</tspan></text>
<line x1="112.70" y1="938.90" x2="119.70" y2="938.90" stroke="#1a1a1a" stroke-width="1.4"/>
<text x="0" y="0" font-size="33.5" text-anchor="end" fill="#000" transform="translate(112.0 948.78) scale(1 1.06)"><tspan>0.40</tspan></text>
<line x1="112.70" y1="852.80" x2="119.70" y2="852.80" stroke="#1a1a1a" stroke-width="1.4"/>
<text x="0" y="0" font-size="33.5" text-anchor="end" fill="#000" transform="translate(112.0 862.68) scale(1 1.06)"><tspan>0.60</tspan></text>
<line x1="112.70" y1="766.70" x2="119.70" y2="766.70" stroke="#1a1a1a" stroke-width="1.4"/>
<text x="0" y="0" font-size="33.5" text-anchor="end" fill="#000" transform="translate(112.0 776.58) scale(1 1.06)"><tspan>0.80</tspan></text>
<line x1="112.70" y1="680.60" x2="119.70" y2="680.60" stroke="#1a1a1a" stroke-width="1.4"/>
<text x="0" y="0" font-size="33.5" text-anchor="end" fill="#000" transform="translate(112.0 690.48) scale(1 1.06)"><tspan>1.00</tspan></text>
<line x1="116.00" y1="981.95" x2="119.70" y2="981.95" stroke="#1a1a1a" stroke-width="1.4"/>
<line x1="116.00" y1="895.85" x2="119.70" y2="895.85" stroke="#1a1a1a" stroke-width="1.4"/>
<line x1="116.00" y1="809.75" x2="119.70" y2="809.75" stroke="#1a1a1a" stroke-width="1.4"/>
<line x1="116.00" y1="723.65" x2="119.70" y2="723.65" stroke="#1a1a1a" stroke-width="1.4"/>
<line x1="180.40" y1="1025.00" x2="180.40" y2="1032.00" stroke="#1a1a1a" stroke-width="1.4"/>
<text x="0" y="0" font-size="33.5" text-anchor="middle" fill="#000" transform="translate(182.1 1060) scale(1 1.06)"><tspan>0.0</tspan></text>
<line x1="302.40" y1="1025.00" x2="302.40" y2="1032.00" stroke="#1a1a1a" stroke-width="1.4"/>
<text x="0" y="0" font-size="33.5" text-anchor="middle" fill="#000" transform="translate(304.1 1060) scale(1 1.06)"><tspan>0.2</tspan></text>
<line x1="424.40" y1="1025.00" x2="424.40" y2="1032.00" stroke="#1a1a1a" stroke-width="1.4"/>
<text x="0" y="0" font-size="33.5" text-anchor="middle" fill="#000" transform="translate(426.1 1060) scale(1 1.06)"><tspan>0.4</tspan></text>
<line x1="546.40" y1="1025.00" x2="546.40" y2="1032.00" stroke="#1a1a1a" stroke-width="1.4"/>
<text x="0" y="0" font-size="33.5" text-anchor="middle" fill="#000" transform="translate(548.1 1060) scale(1 1.06)"><tspan>0.6</tspan></text>
<text x="8.7" y="617.7" font-size="33.5" text-anchor="start" fill="#000" font-weight="bold"><tspan>d</tspan></text>
<text x="0" y="0" font-size="33.8" text-anchor="start" fill="#000" transform="translate(214 652.2) scale(1 1.06)"><tspan>L(0.2)</tspan><tspan dy="10.65" font-size="19.60">4C</tspan><tspan dy="-10.65">-LN(0.7)</tspan><tspan dy="10.65" font-size="19.60" fill="#0000ff">nC</tspan></text>
<text x="29.5" y="933.3" font-size="33.55" text-anchor="start" fill="#000" transform="rotate(-90 29.5 933.3)"><tspan>Li/(Li+Na)</tspan></text>
<text x="77.4" y="1116" font-size="33.72" text-anchor="start" fill="#000"><tspan>Intercalation C rate </tspan><tspan fill="#0000ff">nC</tspan><tspan> in LN(0.7)</tspan><tspan dy="10.62" font-size="20.23" fill="#0000ff">nC</tspan></text>
<line x1="291.10" y1="706.80" x2="307.70" y2="706.80" stroke="#66b2ff" stroke-width="1.8"/>
<line x1="323.70" y1="706.80" x2="340.20" y2="706.80" stroke="#66b2ff" stroke-width="1.8"/>
<rect x="309.75" y="700.85" width="11.9" height="11.9" fill="#66b2ff"/>
<text x="347.3" y="713.75" font-size="30.7" text-anchor="start" fill="#000"><tspan>Li/(Li+Na)</tspan><tspan dy="9.67" font-size="17.65">net</tspan></text>
<line x1="291.10" y1="751.20" x2="307.70" y2="751.20" stroke="#1a1a1a" stroke-width="1.8"/>
<line x1="323.70" y1="751.20" x2="340.20" y2="751.20" stroke="#1a1a1a" stroke-width="1.8"/>
<rect x="309.75" y="745.25" width="11.9" height="11.9" fill="#808080"/>
<text x="347.3" y="758.1" font-size="30.7" text-anchor="start" fill="#000"><tspan>L(0)-LN(0.7)</tspan><tspan dy="9.67" font-size="17.65" fill="#0000ff">nC</tspan></text>
<line x1="731.90" y1="689.40" x2="731.90" y2="713.40" stroke="#000" stroke-width="1.6"/>
<line x1="724.90" y1="701.40" x2="738.90" y2="701.40" stroke="#000" stroke-width="1.6"/>
<line x1="731.70" y1="781.80" x2="731.70" y2="802.60" stroke="#000" stroke-width="1.6"/>
<line x1="715.80" y1="792.20" x2="747.60" y2="792.20" stroke="#000" stroke-width="1.6"/>
<line x1="726.80" y1="793.10" x2="726.80" y2="820.10" stroke="#000" stroke-width="1.6"/>
<line x1="713.60" y1="806.60" x2="740.00" y2="806.60" stroke="#000" stroke-width="1.6"/>
<line x1="708.50" y1="822.10" x2="708.50" y2="869.30" stroke="#000" stroke-width="1.6"/>
<line x1="702.30" y1="845.70" x2="714.70" y2="845.70" stroke="#000" stroke-width="1.6"/>
<line x1="726.90" y1="839.00" x2="726.90" y2="866.00" stroke="#000" stroke-width="1.6"/>
<line x1="713.70" y1="852.50" x2="740.10" y2="852.50" stroke="#000" stroke-width="1.6"/>
<line x1="730.10" y1="823.20" x2="730.10" y2="887.20" stroke="#000" stroke-width="1.6"/>
<line x1="707.60" y1="855.20" x2="752.60" y2="855.20" stroke="#000" stroke-width="1.6"/>
<line x1="721.70" y1="888.80" x2="721.70" y2="965.20" stroke="#000" stroke-width="1.6"/>
<line x1="715.40" y1="927.00" x2="728.00" y2="927.00" stroke="#000" stroke-width="1.6"/>
<line x1="740.80" y1="969.80" x2="740.80" y2="995.40" stroke="#000" stroke-width="1.6"/>
<circle cx="731.90" cy="701.40" r="6.35" fill="#808000"/>
<circle cx="731.70" cy="792.20" r="6.35" fill="#808000"/>
<circle cx="726.80" cy="806.60" r="6.35" fill="#808000"/>
<circle cx="708.50" cy="845.70" r="6.35" fill="#808000"/>
<circle cx="726.90" cy="852.50" r="6.35" fill="#808000"/>
<circle cx="730.10" cy="855.20" r="6.35" fill="#808000"/>
<circle cx="721.70" cy="927.00" r="6.35" fill="#808000"/>
<circle cx="740.80" cy="982.60" r="6.35" fill="#808000"/>
<line x1="727.80" y1="689.40" x2="736.00" y2="689.40" stroke="#000" stroke-width="1.6"/>
<line x1="727.80" y1="713.40" x2="736.00" y2="713.40" stroke="#000" stroke-width="1.6"/>
<line x1="724.90" y1="697.30" x2="724.90" y2="705.50" stroke="#000" stroke-width="1.6"/>
<line x1="738.90" y1="697.30" x2="738.90" y2="705.50" stroke="#000" stroke-width="1.6"/>
<line x1="724.90" y1="701.40" x2="738.90" y2="701.40" stroke="#000" stroke-width="1.6"/>
<line x1="727.60" y1="781.80" x2="735.80" y2="781.80" stroke="#000" stroke-width="1.6"/>
<line x1="727.60" y1="802.60" x2="735.80" y2="802.60" stroke="#000" stroke-width="1.6"/>
<line x1="715.80" y1="788.10" x2="715.80" y2="796.30" stroke="#000" stroke-width="1.6"/>
<line x1="747.60" y1="788.10" x2="747.60" y2="796.30" stroke="#000" stroke-width="1.6"/>
<line x1="722.70" y1="793.10" x2="730.90" y2="793.10" stroke="#000" stroke-width="1.6"/>
<line x1="722.70" y1="820.10" x2="730.90" y2="820.10" stroke="#000" stroke-width="1.6"/>
<line x1="713.60" y1="802.50" x2="713.60" y2="810.70" stroke="#000" stroke-width="1.6"/>
<line x1="740.00" y1="802.50" x2="740.00" y2="810.70" stroke="#000" stroke-width="1.6"/>
<line x1="704.40" y1="822.10" x2="712.60" y2="822.10" stroke="#000" stroke-width="1.6"/>
<line x1="704.40" y1="869.30" x2="712.60" y2="869.30" stroke="#000" stroke-width="1.6"/>
<line x1="702.30" y1="841.60" x2="702.30" y2="849.80" stroke="#000" stroke-width="1.6"/>
<line x1="714.70" y1="841.60" x2="714.70" y2="849.80" stroke="#000" stroke-width="1.6"/>
<line x1="702.30" y1="845.70" x2="714.70" y2="845.70" stroke="#000" stroke-width="1.6"/>
<line x1="722.80" y1="839.00" x2="731.00" y2="839.00" stroke="#000" stroke-width="1.6"/>
<line x1="722.80" y1="866.00" x2="731.00" y2="866.00" stroke="#000" stroke-width="1.6"/>
<line x1="713.70" y1="848.40" x2="713.70" y2="856.60" stroke="#000" stroke-width="1.6"/>
<line x1="740.10" y1="848.40" x2="740.10" y2="856.60" stroke="#000" stroke-width="1.6"/>
<line x1="726.00" y1="823.20" x2="734.20" y2="823.20" stroke="#000" stroke-width="1.6"/>
<line x1="726.00" y1="887.20" x2="734.20" y2="887.20" stroke="#000" stroke-width="1.6"/>
<line x1="707.60" y1="851.10" x2="707.60" y2="859.30" stroke="#000" stroke-width="1.6"/>
<line x1="752.60" y1="851.10" x2="752.60" y2="859.30" stroke="#000" stroke-width="1.6"/>
<line x1="717.60" y1="888.80" x2="725.80" y2="888.80" stroke="#000" stroke-width="1.6"/>
<line x1="717.60" y1="965.20" x2="725.80" y2="965.20" stroke="#000" stroke-width="1.6"/>
<line x1="715.40" y1="922.90" x2="715.40" y2="931.10" stroke="#000" stroke-width="1.6"/>
<line x1="728.00" y1="922.90" x2="728.00" y2="931.10" stroke="#000" stroke-width="1.6"/>
<line x1="715.40" y1="927.00" x2="728.00" y2="927.00" stroke="#000" stroke-width="1.6"/>
<line x1="736.70" y1="969.80" x2="744.90" y2="969.80" stroke="#000" stroke-width="1.6"/>
<line x1="736.70" y1="995.40" x2="744.90" y2="995.40" stroke="#000" stroke-width="1.6"/>
<line x1="956.00" y1="689.40" x2="956.00" y2="713.40" stroke="#000" stroke-width="1.6"/>
<line x1="948.60" y1="701.40" x2="963.40" y2="701.40" stroke="#000" stroke-width="1.6"/>
<line x1="908.50" y1="781.80" x2="908.50" y2="802.60" stroke="#000" stroke-width="1.6"/>
<line x1="901.70" y1="792.20" x2="915.30" y2="792.20" stroke="#000" stroke-width="1.6"/>
<line x1="893.00" y1="793.10" x2="893.00" y2="820.10" stroke="#000" stroke-width="1.6"/>
<line x1="886.20" y1="806.60" x2="899.80" y2="806.60" stroke="#000" stroke-width="1.6"/>
<line x1="871.40" y1="822.10" x2="871.40" y2="869.30" stroke="#000" stroke-width="1.6"/>
<line x1="865.40" y1="845.70" x2="877.40" y2="845.70" stroke="#000" stroke-width="1.6"/>
<line x1="866.30" y1="839.00" x2="866.30" y2="866.00" stroke="#000" stroke-width="1.6"/>
<line x1="860.30" y1="852.50" x2="872.30" y2="852.50" stroke="#000" stroke-width="1.6"/>
<line x1="879.90" y1="823.20" x2="879.90" y2="887.20" stroke="#000" stroke-width="1.6"/>
<line x1="871.40" y1="855.20" x2="888.40" y2="855.20" stroke="#000" stroke-width="1.6"/>
<line x1="847.70" y1="888.80" x2="847.70" y2="965.20" stroke="#000" stroke-width="1.6"/>
<line x1="841.10" y1="927.00" x2="854.30" y2="927.00" stroke="#000" stroke-width="1.6"/>
<line x1="819.70" y1="969.80" x2="819.70" y2="995.40" stroke="#000" stroke-width="1.6"/>
<circle cx="956.00" cy="701.40" r="6.35" fill="#17a297"/>
<circle cx="908.50" cy="792.20" r="6.35" fill="#17a297"/>
<circle cx="893.00" cy="806.60" r="6.35" fill="#17a297"/>
<circle cx="871.40" cy="845.70" r="6.35" fill="#17a297"/>
<circle cx="866.30" cy="852.50" r="6.35" fill="#17a297"/>
<circle cx="879.90" cy="855.20" r="6.35" fill="#17a297"/>
<circle cx="847.70" cy="927.00" r="6.35" fill="#17a297"/>
<circle cx="819.70" cy="982.60" r="6.35" fill="#17a297"/>
<line x1="951.90" y1="689.40" x2="960.10" y2="689.40" stroke="#000" stroke-width="1.6"/>
<line x1="951.90" y1="713.40" x2="960.10" y2="713.40" stroke="#000" stroke-width="1.6"/>
<line x1="948.60" y1="697.30" x2="948.60" y2="705.50" stroke="#000" stroke-width="1.6"/>
<line x1="963.40" y1="697.30" x2="963.40" y2="705.50" stroke="#000" stroke-width="1.6"/>
<line x1="948.60" y1="701.40" x2="963.40" y2="701.40" stroke="#000" stroke-width="1.6"/>
<line x1="904.40" y1="781.80" x2="912.60" y2="781.80" stroke="#000" stroke-width="1.6"/>
<line x1="904.40" y1="802.60" x2="912.60" y2="802.60" stroke="#000" stroke-width="1.6"/>
<line x1="901.70" y1="788.10" x2="901.70" y2="796.30" stroke="#000" stroke-width="1.6"/>
<line x1="915.30" y1="788.10" x2="915.30" y2="796.30" stroke="#000" stroke-width="1.6"/>
<line x1="901.70" y1="792.20" x2="915.30" y2="792.20" stroke="#000" stroke-width="1.6"/>
<line x1="888.90" y1="793.10" x2="897.10" y2="793.10" stroke="#000" stroke-width="1.6"/>
<line x1="888.90" y1="820.10" x2="897.10" y2="820.10" stroke="#000" stroke-width="1.6"/>
<line x1="886.20" y1="802.50" x2="886.20" y2="810.70" stroke="#000" stroke-width="1.6"/>
<line x1="899.80" y1="802.50" x2="899.80" y2="810.70" stroke="#000" stroke-width="1.6"/>
<line x1="886.20" y1="806.60" x2="899.80" y2="806.60" stroke="#000" stroke-width="1.6"/>
<line x1="867.30" y1="822.10" x2="875.50" y2="822.10" stroke="#000" stroke-width="1.6"/>
<line x1="867.30" y1="869.30" x2="875.50" y2="869.30" stroke="#000" stroke-width="1.6"/>
<line x1="865.40" y1="841.60" x2="865.40" y2="849.80" stroke="#000" stroke-width="1.6"/>
<line x1="877.40" y1="841.60" x2="877.40" y2="849.80" stroke="#000" stroke-width="1.6"/>
<line x1="865.40" y1="845.70" x2="877.40" y2="845.70" stroke="#000" stroke-width="1.6"/>
<line x1="862.20" y1="839.00" x2="870.40" y2="839.00" stroke="#000" stroke-width="1.6"/>
<line x1="862.20" y1="866.00" x2="870.40" y2="866.00" stroke="#000" stroke-width="1.6"/>
<line x1="860.30" y1="848.40" x2="860.30" y2="856.60" stroke="#000" stroke-width="1.6"/>
<line x1="872.30" y1="848.40" x2="872.30" y2="856.60" stroke="#000" stroke-width="1.6"/>
<line x1="860.30" y1="852.50" x2="872.30" y2="852.50" stroke="#000" stroke-width="1.6"/>
<line x1="875.80" y1="823.20" x2="884.00" y2="823.20" stroke="#000" stroke-width="1.6"/>
<line x1="875.80" y1="887.20" x2="884.00" y2="887.20" stroke="#000" stroke-width="1.6"/>
<line x1="871.40" y1="851.10" x2="871.40" y2="859.30" stroke="#000" stroke-width="1.6"/>
<line x1="888.40" y1="851.10" x2="888.40" y2="859.30" stroke="#000" stroke-width="1.6"/>
<line x1="843.60" y1="888.80" x2="851.80" y2="888.80" stroke="#000" stroke-width="1.6"/>
<line x1="843.60" y1="965.20" x2="851.80" y2="965.20" stroke="#000" stroke-width="1.6"/>
<line x1="841.10" y1="922.90" x2="841.10" y2="931.10" stroke="#000" stroke-width="1.6"/>
<line x1="854.30" y1="922.90" x2="854.30" y2="931.10" stroke="#000" stroke-width="1.6"/>
<line x1="841.10" y1="927.00" x2="854.30" y2="927.00" stroke="#000" stroke-width="1.6"/>
<line x1="815.60" y1="969.80" x2="823.80" y2="969.80" stroke="#000" stroke-width="1.6"/>
<line x1="815.60" y1="995.40" x2="823.80" y2="995.40" stroke="#000" stroke-width="1.6"/>
<line x1="1092.70" y1="689.40" x2="1092.70" y2="713.40" stroke="#000" stroke-width="1.6"/>
<line x1="1086.40" y1="701.40" x2="1099.00" y2="701.40" stroke="#000" stroke-width="1.6"/>
<line x1="1045.20" y1="774.20" x2="1045.20" y2="810.20" stroke="#000" stroke-width="1.6"/>
<line x1="1032.00" y1="792.20" x2="1058.40" y2="792.20" stroke="#000" stroke-width="1.6"/>
<line x1="1024.40" y1="792.80" x2="1024.40" y2="820.40" stroke="#000" stroke-width="1.6"/>
<line x1="1006.10" y1="806.60" x2="1042.70" y2="806.60" stroke="#000" stroke-width="1.6"/>
<line x1="984.70" y1="822.10" x2="984.70" y2="869.30" stroke="#000" stroke-width="1.6"/>
<line x1="978.70" y1="845.70" x2="990.70" y2="845.70" stroke="#000" stroke-width="1.6"/>
<line x1="998.80" y1="838.20" x2="998.80" y2="866.80" stroke="#000" stroke-width="1.6"/>
<line x1="983.30" y1="852.50" x2="1014.30" y2="852.50" stroke="#000" stroke-width="1.6"/>
<line x1="1015.60" y1="823.20" x2="1015.60" y2="887.20" stroke="#000" stroke-width="1.6"/>
<line x1="1000.20" y1="855.20" x2="1031.00" y2="855.20" stroke="#000" stroke-width="1.6"/>
<line x1="974.90" y1="888.80" x2="974.90" y2="965.20" stroke="#000" stroke-width="1.6"/>
<line x1="968.40" y1="927.00" x2="981.40" y2="927.00" stroke="#000" stroke-width="1.6"/>
<line x1="966.30" y1="969.80" x2="966.30" y2="995.40" stroke="#000" stroke-width="1.6"/>
<circle cx="1092.70" cy="701.40" r="6.35" fill="#05507a"/>
<circle cx="1045.20" cy="792.20" r="6.35" fill="#05507a"/>
<circle cx="1024.40" cy="806.60" r="6.35" fill="#05507a"/>
<circle cx="984.70" cy="845.70" r="6.35" fill="#05507a"/>
<circle cx="998.80" cy="852.50" r="6.35" fill="#05507a"/>
<circle cx="1015.60" cy="855.20" r="6.35" fill="#05507a"/>
<circle cx="974.90" cy="927.00" r="6.35" fill="#05507a"/>
<circle cx="966.30" cy="982.60" r="6.35" fill="#05507a"/>
<line x1="1088.60" y1="689.40" x2="1096.80" y2="689.40" stroke="#000" stroke-width="1.6"/>
<line x1="1088.60" y1="713.40" x2="1096.80" y2="713.40" stroke="#000" stroke-width="1.6"/>
<line x1="1086.40" y1="697.30" x2="1086.40" y2="705.50" stroke="#000" stroke-width="1.6"/>
<line x1="1099.00" y1="697.30" x2="1099.00" y2="705.50" stroke="#000" stroke-width="1.6"/>
<line x1="1086.40" y1="701.40" x2="1099.00" y2="701.40" stroke="#000" stroke-width="1.6"/>
<line x1="1041.10" y1="774.20" x2="1049.30" y2="774.20" stroke="#000" stroke-width="1.6"/>
<line x1="1041.10" y1="810.20" x2="1049.30" y2="810.20" stroke="#000" stroke-width="1.6"/>
<line x1="1032.00" y1="788.10" x2="1032.00" y2="796.30" stroke="#000" stroke-width="1.6"/>
<line x1="1058.40" y1="788.10" x2="1058.40" y2="796.30" stroke="#000" stroke-width="1.6"/>
<line x1="1020.30" y1="792.80" x2="1028.50" y2="792.80" stroke="#000" stroke-width="1.6"/>
<line x1="1020.30" y1="820.40" x2="1028.50" y2="820.40" stroke="#000" stroke-width="1.6"/>
<line x1="1006.10" y1="802.50" x2="1006.10" y2="810.70" stroke="#000" stroke-width="1.6"/>
<line x1="1042.70" y1="802.50" x2="1042.70" y2="810.70" stroke="#000" stroke-width="1.6"/>
<line x1="980.60" y1="822.10" x2="988.80" y2="822.10" stroke="#000" stroke-width="1.6"/>
<line x1="980.60" y1="869.30" x2="988.80" y2="869.30" stroke="#000" stroke-width="1.6"/>
<line x1="978.70" y1="841.60" x2="978.70" y2="849.80" stroke="#000" stroke-width="1.6"/>
<line x1="990.70" y1="841.60" x2="990.70" y2="849.80" stroke="#000" stroke-width="1.6"/>
<line x1="978.70" y1="845.70" x2="990.70" y2="845.70" stroke="#000" stroke-width="1.6"/>
<line x1="994.70" y1="838.20" x2="1002.90" y2="838.20" stroke="#000" stroke-width="1.6"/>
<line x1="994.70" y1="866.80" x2="1002.90" y2="866.80" stroke="#000" stroke-width="1.6"/>
<line x1="983.30" y1="848.40" x2="983.30" y2="856.60" stroke="#000" stroke-width="1.6"/>
<line x1="1014.30" y1="848.40" x2="1014.30" y2="856.60" stroke="#000" stroke-width="1.6"/>
<line x1="1011.50" y1="823.20" x2="1019.70" y2="823.20" stroke="#000" stroke-width="1.6"/>
<line x1="1011.50" y1="887.20" x2="1019.70" y2="887.20" stroke="#000" stroke-width="1.6"/>
<line x1="1000.20" y1="851.10" x2="1000.20" y2="859.30" stroke="#000" stroke-width="1.6"/>
<line x1="1031.00" y1="851.10" x2="1031.00" y2="859.30" stroke="#000" stroke-width="1.6"/>
<line x1="970.80" y1="888.80" x2="979.00" y2="888.80" stroke="#000" stroke-width="1.6"/>
<line x1="970.80" y1="965.20" x2="979.00" y2="965.20" stroke="#000" stroke-width="1.6"/>
<line x1="968.40" y1="922.90" x2="968.40" y2="931.10" stroke="#000" stroke-width="1.6"/>
<line x1="981.40" y1="922.90" x2="981.40" y2="931.10" stroke="#000" stroke-width="1.6"/>
<line x1="968.40" y1="927.00" x2="981.40" y2="927.00" stroke="#000" stroke-width="1.6"/>
<line x1="962.20" y1="969.80" x2="970.40" y2="969.80" stroke="#000" stroke-width="1.6"/>
<line x1="962.20" y1="995.40" x2="970.40" y2="995.40" stroke="#000" stroke-width="1.6"/>
<line x1="719.70" y1="681.40" x2="737.70" y2="1024.80" stroke="#808000" stroke-width="1.35"/>
<line x1="790.60" y1="1024.80" x2="963.10" y2="680.70" stroke="#2ea3d5" stroke-width="1.75"/>
<line x1="929.20" y1="1024.80" x2="1087.70" y2="680.70" stroke="#0f8b8b" stroke-width="1.75"/>
<polyline fill="none" stroke="#222" stroke-width="1.5" stroke-linejoin="miter" points="695.3,680.7 1123.5,680.7 1123.5,1024.8 695.3,1024.8"/>
<line x1="695.30" y1="679.95" x2="695.30" y2="1025.55" stroke="#222" stroke-width="1.5"/>
<line x1="689.00" y1="995.80" x2="695.30" y2="995.80" stroke="#222" stroke-width="1.5"/>
<text x="0" y="0" font-size="33.5" text-anchor="end" fill="#000" transform="translate(683.2 1010.0) scale(1 1.06)"><tspan>0.60</tspan></text>
<line x1="689.00" y1="938.50" x2="695.30" y2="938.50" stroke="#222" stroke-width="1.5"/>
<text x="0" y="0" font-size="33.5" text-anchor="end" fill="#000" transform="translate(683.2 952.7) scale(1 1.06)"><tspan>0.65</tspan></text>
<line x1="689.00" y1="881.20" x2="695.30" y2="881.20" stroke="#222" stroke-width="1.5"/>
<text x="0" y="0" font-size="33.5" text-anchor="end" fill="#000" transform="translate(683.2 895.4) scale(1 1.06)"><tspan>0.70</tspan></text>
<line x1="689.00" y1="823.90" x2="695.30" y2="823.90" stroke="#222" stroke-width="1.5"/>
<text x="0" y="0" font-size="33.5" text-anchor="end" fill="#000" transform="translate(683.2 838.1) scale(1 1.06)"><tspan>0.75</tspan></text>
<line x1="689.00" y1="766.60" x2="695.30" y2="766.60" stroke="#222" stroke-width="1.5"/>
<text x="0" y="0" font-size="33.5" text-anchor="end" fill="#000" transform="translate(683.2 780.8) scale(1 1.06)"><tspan>0.80</tspan></text>
<line x1="689.00" y1="709.30" x2="695.30" y2="709.30" stroke="#222" stroke-width="1.5"/>
<text x="0" y="0" font-size="33.5" text-anchor="end" fill="#000" transform="translate(683.2 723.5) scale(1 1.06)"><tspan>0.85</tspan></text>
<line x1="691.60" y1="967.15" x2="695.30" y2="967.15" stroke="#222" stroke-width="1.5"/>
<line x1="691.60" y1="909.85" x2="695.30" y2="909.85" stroke="#222" stroke-width="1.5"/>
<line x1="691.60" y1="852.55" x2="695.30" y2="852.55" stroke="#222" stroke-width="1.5"/>
<line x1="691.60" y1="795.25" x2="695.30" y2="795.25" stroke="#222" stroke-width="1.5"/>
<line x1="691.60" y1="737.95" x2="695.30" y2="737.95" stroke="#222" stroke-width="1.5"/>
<line x1="695.30" y1="1024.80" x2="695.30" y2="1031.80" stroke="#222" stroke-width="1.5"/>
<text x="0" y="0" font-size="33.5" text-anchor="middle" fill="#000" transform="translate(695.6 1057.7) scale(1 1.06)"><tspan>0.1</tspan></text>
<line x1="795.90" y1="1024.80" x2="795.90" y2="1031.80" stroke="#222" stroke-width="1.5"/>
<text x="0" y="0" font-size="33.5" text-anchor="middle" fill="#000" transform="translate(796.2 1057.7) scale(1 1.06)"><tspan>0.2</tspan></text>
<line x1="896.50" y1="1024.80" x2="896.50" y2="1031.80" stroke="#222" stroke-width="1.5"/>
<text x="0" y="0" font-size="33.5" text-anchor="middle" fill="#000" transform="translate(896.8 1057.7) scale(1 1.06)"><tspan>0.3</tspan></text>
<line x1="997.10" y1="1024.80" x2="997.10" y2="1031.80" stroke="#222" stroke-width="1.5"/>
<text x="0" y="0" font-size="33.5" text-anchor="middle" fill="#000" transform="translate(997.4 1057.7) scale(1 1.06)"><tspan>0.4</tspan></text>
<line x1="1097.70" y1="1024.80" x2="1097.70" y2="1031.80" stroke="#222" stroke-width="1.5"/>
<text x="0" y="0" font-size="33.5" text-anchor="middle" fill="#000" transform="translate(1098.0 1057.7) scale(1 1.06)"><tspan>0.5</tspan></text>
<line x1="745.60" y1="1024.80" x2="745.60" y2="1028.50" stroke="#222" stroke-width="1.5"/>
<line x1="846.20" y1="1024.80" x2="846.20" y2="1028.50" stroke="#222" stroke-width="1.5"/>
<line x1="946.80" y1="1024.80" x2="946.80" y2="1028.50" stroke="#222" stroke-width="1.5"/>
<line x1="1047.40" y1="1024.80" x2="1047.40" y2="1028.50" stroke="#222" stroke-width="1.5"/>
<text x="580.0" y="617.3" font-size="33.5" text-anchor="start" fill="#000" font-weight="bold"><tspan>e</tspan></text>
<text x="0" y="0" font-size="33.2" text-anchor="start" fill="#000" transform="translate(601.2 954.3) rotate(-90) scale(1.105 1)"><tspan>Li/(Li+Na)</tspan><tspan dy="11.12" font-size="19.92">net</tspan></text>
<text x="0" y="0" font-size="33" text-anchor="start" fill="#000" transform="translate(770.6 1115.7) scale(0.93 1)"><tspan>Li SS phase fraction</tspan></text>
<text x="731.0" y="769.2" font-size="23.6" text-anchor="start" fill="#808000"><tspan>COD = 0.01</tspan></text>
<text x="810.2" y="730.2" font-size="23.6" text-anchor="start" fill="#17a297"><tspan>COD = 0.97</tspan></text>
<text x="986.4" y="929.0" font-size="23.6" text-anchor="start" fill="#05507a"><tspan>COD = 0.88</tspan></text>
<ellipse cx="649.4" cy="636.5" rx="6.7" ry="7.4" fill="#808000"/>
<text x="0" y="0" font-size="33" text-anchor="start" fill="#000" transform="translate(664.0 648.4) scale(0.93 1)"><tspan>Low-Li SS</tspan></text>
<ellipse cx="827.3" cy="636.5" rx="6.7" ry="7.4" fill="#17a297"/>
<text x="0" y="0" font-size="33" text-anchor="start" fill="#000" transform="translate(842.4 648.4) scale(0.93 1)"><tspan>High-Li SS</tspan></text>
<ellipse cx="1013.7" cy="636.5" rx="6.7" ry="7.4" fill="#05507a"/>
<text x="0" y="0" font-size="33" text-anchor="start" fill="#000" transform="translate(1029.2 648.4) scale(0.95 1)"><tspan>Total SS</tspan></text>
<line x1="1277.50" y1="896.40" x2="1706.20" y2="896.40" stroke="#808080" stroke-width="2.4" stroke-dasharray="6.9 3.8"/>
<polyline fill="none" stroke="#0560c8" stroke-width="1.9" points="1298.80,753.00 1341.65,755.70 1384.50,766.00 1427.35,756.70 1470.20,758.00 1513.05,751.30 1555.90,768.00 1598.75,755.70 1641.60,751.70 1684.45,759.70"/>
<polyline fill="none" stroke="#66b2ff" stroke-width="1.9" points="1298.80,781.30 1341.65,786.00 1384.50,800.00 1427.35,787.70 1470.20,789.00 1513.05,779.00 1555.90,803.00 1598.75,785.70 1641.60,780.00 1684.45,790.70"/>
<rect x="1292.80" y="747.00" width="12" height="12" fill="#0560c8"/>
<rect x="1335.65" y="749.70" width="12" height="12" fill="#0560c8"/>
<rect x="1378.50" y="760.00" width="12" height="12" fill="#0560c8"/>
<rect x="1421.35" y="750.70" width="12" height="12" fill="#0560c8"/>
<rect x="1464.20" y="752.00" width="12" height="12" fill="#0560c8"/>
<rect x="1507.05" y="745.30" width="12" height="12" fill="#0560c8"/>
<rect x="1549.90" y="762.00" width="12" height="12" fill="#0560c8"/>
<rect x="1592.75" y="749.70" width="12" height="12" fill="#0560c8"/>
<rect x="1635.60" y="745.70" width="12" height="12" fill="#0560c8"/>
<rect x="1678.45" y="753.70" width="12" height="12" fill="#0560c8"/>
<rect x="1292.80" y="775.30" width="12" height="12" fill="#66b2ff"/>
<rect x="1335.65" y="780.00" width="12" height="12" fill="#66b2ff"/>
<rect x="1378.50" y="794.00" width="12" height="12" fill="#66b2ff"/>
<rect x="1421.35" y="781.70" width="12" height="12" fill="#66b2ff"/>
<rect x="1464.20" y="783.00" width="12" height="12" fill="#66b2ff"/>
<rect x="1507.05" y="773.00" width="12" height="12" fill="#66b2ff"/>
<rect x="1549.90" y="797.00" width="12" height="12" fill="#66b2ff"/>
<rect x="1592.75" y="779.70" width="12" height="12" fill="#66b2ff"/>
<rect x="1635.60" y="774.00" width="12" height="12" fill="#66b2ff"/>
<rect x="1678.45" y="784.70" width="12" height="12" fill="#66b2ff"/>
<polyline fill="none" stroke="#151515" stroke-width="1.5" stroke-linejoin="miter" points="1277.5,680.9 1706.2,680.9 1706.2,1025.0 1277.5,1025.0"/>
<line x1="1277.50" y1="680.15" x2="1277.50" y2="1025.75" stroke="#151515" stroke-width="1.5"/>
<line x1="1270.30" y1="1025.00" x2="1277.50" y2="1025.00" stroke="#151515" stroke-width="1.5"/>
<text x="0" y="0" font-size="32.8" text-anchor="end" fill="#000" transform="translate(1265.2 1034.68) scale(1 1.06)"><tspan>0.20</tspan></text>
<line x1="1270.30" y1="938.96" x2="1277.50" y2="938.96" stroke="#151515" stroke-width="1.5"/>
<text x="0" y="0" font-size="32.8" text-anchor="end" fill="#000" transform="translate(1265.2 948.64) scale(1 1.06)"><tspan>0.40</tspan></text>
<line x1="1270.30" y1="852.92" x2="1277.50" y2="852.92" stroke="#151515" stroke-width="1.5"/>
<text x="0" y="0" font-size="32.8" text-anchor="end" fill="#000" transform="translate(1265.2 862.6) scale(1 1.06)"><tspan>0.60</tspan></text>
<line x1="1270.30" y1="766.88" x2="1277.50" y2="766.88" stroke="#151515" stroke-width="1.5"/>
<text x="0" y="0" font-size="32.8" text-anchor="end" fill="#000" transform="translate(1265.2 776.56) scale(1 1.06)"><tspan>0.80</tspan></text>
<line x1="1270.30" y1="680.84" x2="1277.50" y2="680.84" stroke="#151515" stroke-width="1.5"/>
<text x="0" y="0" font-size="32.8" text-anchor="end" fill="#000" transform="translate(1265.2 690.52) scale(1 1.06)"><tspan>1.00</tspan></text>
<line x1="1273.80" y1="981.98" x2="1277.50" y2="981.98" stroke="#151515" stroke-width="1.5"/>
<line x1="1273.80" y1="895.94" x2="1277.50" y2="895.94" stroke="#151515" stroke-width="1.5"/>
<line x1="1273.80" y1="809.90" x2="1277.50" y2="809.90" stroke="#151515" stroke-width="1.5"/>
<line x1="1273.80" y1="723.86" x2="1277.50" y2="723.86" stroke="#151515" stroke-width="1.5"/>
<line x1="1298.80" y1="1025.00" x2="1298.80" y2="1032.00" stroke="#151515" stroke-width="1.5"/>
<text x="0" y="0" font-size="32.8" text-anchor="middle" fill="#000" transform="translate(1298.8 1060.6) scale(1 1.06)"><tspan>1</tspan></text>
<line x1="1341.65" y1="1025.00" x2="1341.65" y2="1032.00" stroke="#151515" stroke-width="1.5"/>
<text x="0" y="0" font-size="32.8" text-anchor="middle" fill="#000" transform="translate(1341.65 1060.6) scale(1 1.06)"><tspan>2</tspan></text>
<line x1="1384.50" y1="1025.00" x2="1384.50" y2="1032.00" stroke="#151515" stroke-width="1.5"/>
<text x="0" y="0" font-size="32.8" text-anchor="middle" fill="#000" transform="translate(1384.5 1060.6) scale(1 1.06)"><tspan>3</tspan></text>
<line x1="1427.35" y1="1025.00" x2="1427.35" y2="1032.00" stroke="#151515" stroke-width="1.5"/>
<text x="0" y="0" font-size="32.8" text-anchor="middle" fill="#000" transform="translate(1427.35 1060.6) scale(1 1.06)"><tspan>4</tspan></text>
<line x1="1470.20" y1="1025.00" x2="1470.20" y2="1032.00" stroke="#151515" stroke-width="1.5"/>
<text x="0" y="0" font-size="32.8" text-anchor="middle" fill="#000" transform="translate(1470.2 1060.6) scale(1 1.06)"><tspan>5</tspan></text>
<line x1="1513.05" y1="1025.00" x2="1513.05" y2="1032.00" stroke="#151515" stroke-width="1.5"/>
<text x="0" y="0" font-size="32.8" text-anchor="middle" fill="#000" transform="translate(1513.05 1060.6) scale(1 1.06)"><tspan>6</tspan></text>
<line x1="1555.90" y1="1025.00" x2="1555.90" y2="1032.00" stroke="#151515" stroke-width="1.5"/>
<text x="0" y="0" font-size="32.8" text-anchor="middle" fill="#000" transform="translate(1555.9 1060.6) scale(1 1.06)"><tspan>7</tspan></text>
<line x1="1598.75" y1="1025.00" x2="1598.75" y2="1032.00" stroke="#151515" stroke-width="1.5"/>
<text x="0" y="0" font-size="32.8" text-anchor="middle" fill="#000" transform="translate(1598.75 1060.6) scale(1 1.06)"><tspan>8</tspan></text>
<line x1="1641.60" y1="1025.00" x2="1641.60" y2="1032.00" stroke="#151515" stroke-width="1.5"/>
<text x="0" y="0" font-size="32.8" text-anchor="middle" fill="#000" transform="translate(1641.6 1060.6) scale(1 1.06)"><tspan>9</tspan></text>
<line x1="1684.45" y1="1025.00" x2="1684.45" y2="1032.00" stroke="#151515" stroke-width="1.5"/>
<text x="0" y="0" font-size="32.8" text-anchor="middle" fill="#000" transform="translate(1684.45 1060.6) scale(1 1.06)"><tspan>10</tspan></text>
<text x="1167" y="617.0" font-size="33.5" text-anchor="start" fill="#000" font-weight="bold"><tspan>f</tspan></text>
<text x="0" y="0" font-size="32.7" text-anchor="start" fill="#000" transform="translate(1359.2 652.2) scale(1 1.06)"><tspan>L(0.2)</tspan><tspan dy="10.30" font-size="18.97">4C</tspan><tspan dy="-10.30">-LN(0.7)</tspan><tspan dy="10.30" font-size="18.97">0.1C</tspan></text>
<text x="1180.2" y="918.4" font-size="33.55" text-anchor="start" fill="#000" transform="rotate(-90 1180.2 918.4)"><tspan>Li/(Li+Na)</tspan></text>
<text x="1391.2" y="1114.5" font-size="33.0" text-anchor="start" fill="#000"><tspan>Cycle number</tspan></text>
<line x1="1307.80" y1="938.90" x2="1355.00" y2="938.90" stroke="#0560c8" stroke-width="1.9"/>
<rect x="1325.40" y="933.00" width="11.8" height="11.8" fill="#0560c8"/>
<text x="1362.8" y="946.5" font-size="29.7" text-anchor="start" fill="#000"><tspan>Li/(Li+Na)</tspan><tspan dy="9.36" font-size="17.08">total</tspan></text>
<line x1="1307.80" y1="980.75" x2="1355.00" y2="980.75" stroke="#66b2ff" stroke-width="1.9"/>
<rect x="1325.40" y="974.85" width="11.8" height="11.8" fill="#66b2ff"/>
<text x="1362.8" y="991.5" font-size="29.7" text-anchor="start" fill="#000"><tspan>Li/(Li+Na)</tspan><tspan dy="9.36" font-size="17.08">net</tspan></text>
</svg>
</body></html>
